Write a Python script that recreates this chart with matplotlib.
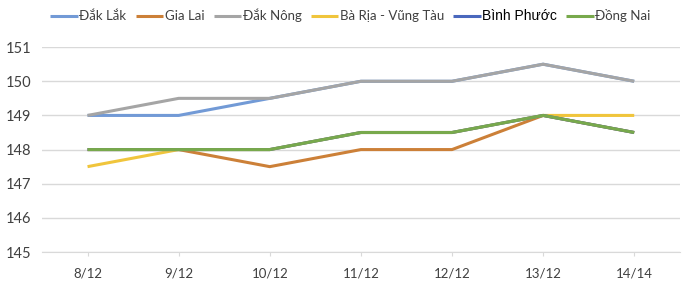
import matplotlib.pyplot as plt
import numpy as np

plt.rcParams.update({
    "font.family": "Lato",
})

## data
dates = ["8/12", "9/12", "10/12", "11/12", "12/12", "13/12", "14/14"]

dak_lak = [149, 149, 149.5, 150, 150, 150.5, 150]
gia_lai = [148, 148, 147.5, 148, 148, 149, 148.5]
dak_nong = [149, 149.5, 149.5, 150, 150, 150.5, 150]
ba_ria = [147.5, 148, 148, 148.5, 148.5, 149, 149]
binh_phuoc = [148, 148, 148, 148.5, 148.5, 149, 148.5]
dong_nai = [148, 148, 148, 148.5, 148.5, 149, 148.5]

names = ["Đắk Lắk", "Gia Lai", "Đắk Nông", "Bà Rịa - Vũng Tàu", "Bình Phước", "Đồng Nai"]
series = [dak_lak, gia_lai, dak_nong, ba_ria, binh_phuoc, dong_nai]
colors = ["#729ad6", "#cc8038", "#a5a5a5", "#f0c53c", "#4a68bd", "#78a94c"]

## parameters
fs0 = 9.5
fs1 = 10.5
lw0 = 2.2
x = np.arange(len(dates))

fig = plt.figure(figsize=(6.94, 2.91), dpi=100)
ax = fig.add_axes([0.0605, 0.134, 0.919, 0.704])

for i in range(len(series)):
    ax.plot(x, series[i], color=colors[i], linewidth=lw0, label=names[i],
            solid_capstyle="butt")

ax.set_xlim(-0.5, len(dates) - 0.5)
ax.set_ylim(145, 151)
ax.set_yticks(np.arange(145, 152, 1))
ax.set_xticks(x, dates)
ax.tick_params(axis="y", labelsize=fs1, length=0, colors="#404040", pad=8)
ax.tick_params(axis="x", labelsize=fs0, length=3, color="#d9d9d9",
               labelcolor="#404040", pad=8)

ax.grid(axis="y", color="#d9d9d9", linewidth=1)
ax.set_axisbelow(True)
for s in ["top", "right", "left"]:
    ax.spines[s].set_visible(False)
ax.spines["bottom"].set_color("#d9d9d9")

leg = fig.legend(loc="upper center", bbox_to_anchor=(0.505, 1.01), ncol=6, frameon=False,
                 fontsize=fs0, handlelength=2.1, handletextpad=0.1, columnspacing=0.7)
for t in leg.get_texts():
    t.set_color("#404040")
    if t.get_text() == "Bình Phước":
        t.set_family("Liberation Sans")
        t.set_fontsize(10)
        t.set_color("black")

fig.savefig("out.png", dpi=100)
